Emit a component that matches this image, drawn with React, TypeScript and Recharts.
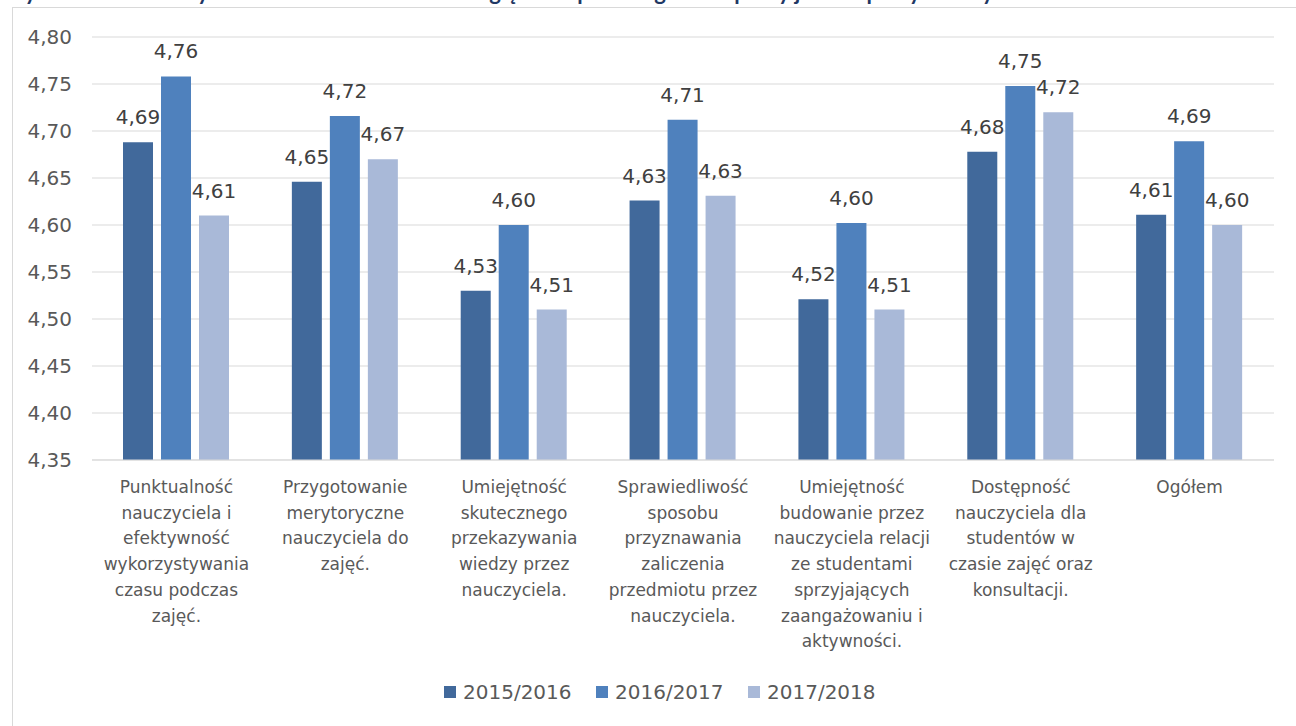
import { Bar, BarChart, CartesianGrid, LabelList, XAxis, YAxis } from "recharts";

const categories = [
  "Punktualność\nnauczyciela i\nefektywność\nwykorzystywania\nczasu podczas\nzajęć.",
  "Przygotowanie\nmerytoryczne\nnauczyciela do\nzajęć.",
  "Umiejętność\nskutecznego\nprzekazywania\nwiedzy przez\nnauczyciela.",
  "Sprawiedliwość\nsposobu\nprzyznawania\nzaliczenia\nprzedmiotu przez\nnauczyciela.",
  "Umiejętność\nbudowanie przez\nnauczyciela relacji\nze studentami\nsprzyjających\nzaangażowaniu i\naktywności.",
  "Dostępność\nnauczyciela dla\nstudentów w\nczasie zajęć oraz\nkonsultacji.",
  "Ogółem",
];
const years = ["2015/2016", "2016/2017", "2017/2018"];
const v2015 = [4.688, 4.646, 4.53, 4.626, 4.521, 4.678, 4.611];
const v2016 = [4.758, 4.716, 4.6, 4.712, 4.602, 4.748, 4.689];
const v2017 = [4.61, 4.67, 4.51, 4.631, 4.51, 4.72, 4.6];
const yTicks = [4.35, 4.4, 4.45, 4.5, 4.55, 4.6, 4.65, 4.7, 4.75, 4.8];

const colors = ["#41699B", "#4F81BD", "#A9B9D8"];
const font = "'DejaVu Sans', sans-serif";
const grey = "#595959";

const data = categories.map((name, i) => ({ name, a: v2015[i], b: v2016[i], c: v2017[i] }));
const fmt = (v: any) => Number(v).toFixed(2).replace(".", ",");

function CategoryTick({ x, y, payload }: any) {
  const lines = String(payload.value).split("\n");
  return (
    <text x={x} y={y} textAnchor="middle" fill={grey} fontSize={17} fontFamily={font}>
      {lines.map((l, i) => (
        <tspan key={i} x={x} dy={i === 0 ? 25 : 25.7}>{l}</tspan>
      ))}
    </text>
  );
}

export default function App() {
  const keys = ["a", "b", "c"];
  return (
    <div style={{ position: "fixed", left: 0, top: 0, width: 1296, height: 726, overflow: "hidden", background: "#fff", fontFamily: font }}>
      <div style={{ position: "absolute", left: 2, top: -22, whiteSpace: "nowrap", fontWeight: 700, fontSize: 22, color: "#1F3864", fontFamily: "Lato, sans-serif" }}>
        Wykres 7. Ocena Wydziału Nauk o Zdrowiu ze względu na poszczególne aspekty jakości pracy nauczycieli akademickich
      </div>
      <div style={{ position: "absolute", left: 12, top: 7, width: 1300, height: 730, border: "1px solid #D9D9D9", boxSizing: "border-box" }} />
      <div style={{ position: "absolute", left: 0, top: 0 }}>
        <BarChart width={1296} height={726} data={data} margin={{ top: 37, right: 22, left: 0, bottom: 66 }} barSize={30} barGap={8}>
          <CartesianGrid vertical={false} stroke="#D9D9D9" />
          <XAxis dataKey="name" tickLine={false} axisLine={{ stroke: "#D9D9D9" }} interval={0} height={200} tick={<CategoryTick />} />
          <YAxis
            domain={[4.35, 4.8]}
            ticks={yTicks}
            tickFormatter={fmt}
            axisLine={false}
            tickLine={false}
            width={92}
            tickMargin={14}
            tick={{ fill: grey, fontSize: 20, fontFamily: font }}
          />
          {keys.map((k, i) => (
            <Bar key={k} dataKey={k} name={years[i]} fill={colors[i]} isAnimationActive={false}>
              <LabelList dataKey={k} position="top" offset={18} formatter={fmt} fill="#404040" fontSize={20} fontFamily={font} />
            </Bar>
          ))}
        </BarChart>
      </div>
      <div style={{ position: "absolute", top: 680, left: 444, display: "flex", alignItems: "center", fontSize: 20, color: grey }}>
        {years.map((y, i) => (
          <div key={y} style={{ display: "flex", alignItems: "center", width: 152 }}>
            <span style={{ width: 12, height: 12, background: colors[i], display: "inline-block", marginRight: 7 }} />
            {y}
          </div>
        ))}
      </div>
    </div>
  );
}
